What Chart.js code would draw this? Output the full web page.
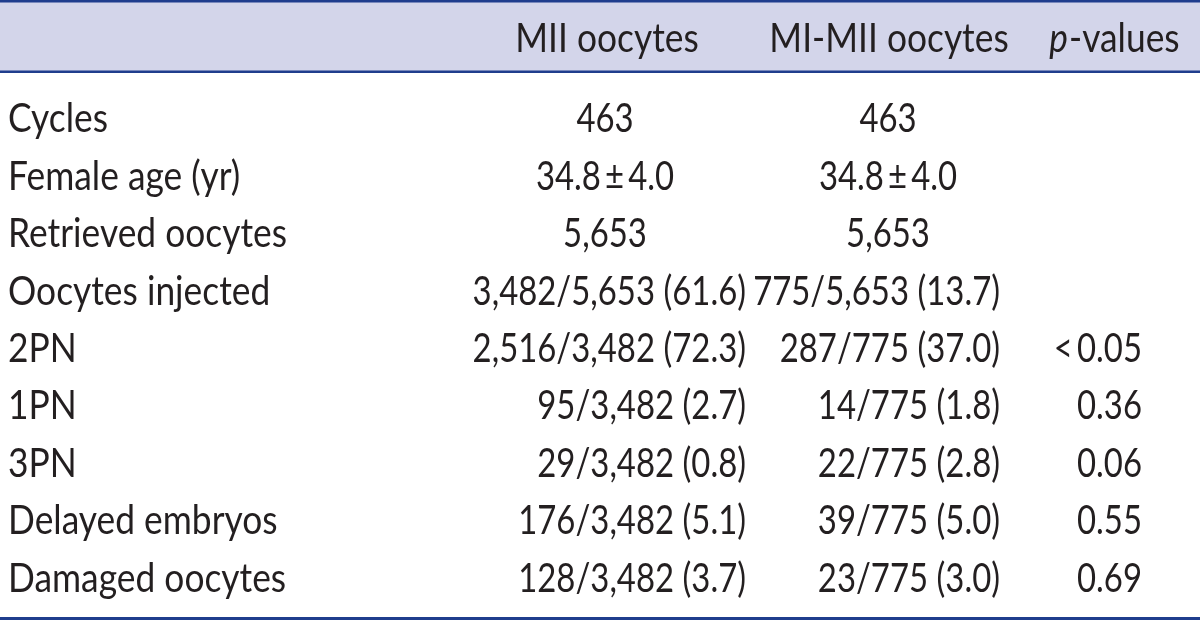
<!DOCTYPE html>
<html lang="en">
<head>
  <meta charset="UTF-8">
  <title>MII vs MI-MII oocytes</title>
  <script src="https://cdn.jsdelivr.net/npm/chart.js"></script>
  <style>
    html, body { margin: 0; padding: 0; background: #fff; }
    #wrap { width: 1200px; height: 620px; position: relative; }
  </style>
</head>
<body>
  <div id="wrap"><canvas id="tabla"></canvas></div>

  <script>
    // datos de la tabla
    const rowLabels = ['Cycles', 'Female age (yr)', 'Retrieved oocytes', 'Oocytes injected',
      '2PN', '1PN', '3PN', 'Delayed embryos', 'Damaged oocytes'];
    const miiValues = ['463', '34.8\u2009\u00b1\u20094.0', '5,653', '3,482/5,653 (61.6)', '2,516/3,482 (72.3)',
      '95/3,482 (2.7)', '29/3,482 (0.8)', '176/3,482 (5.1)', '128/3,482 (3.7)'];
    const mimiiValues = ['463', '34.8\u2009\u00b1\u20094.0', '5,653', '775/5,653 (13.7)', '287/775 (37.0)',
      '14/775 (1.8)', '22/775 (2.8)', '39/775 (5.0)', '23/775 (3.0)'];
    const pValues = ['', '', '', '', '<\u20090.05', '0.36', '0.06', '0.55', '0.69'];
    const columnHeaders = ['', 'MII oocytes', 'MI-MII oocytes', 'p-values'];

    // layout de columnas (posicion en el eje x, no son datos)
    const colLeft = 8;
    const colCenter = [0, 605, 888, 1113];
    const colRight = [0, 746, 1000, 1142];
    const headerCenter = [0, 607, 889, 1114];
    const centeredRows = 3; // primeras filas centradas, el resto alineado a la derecha

    const FONT = 'Lato, "Open Sans", sans-serif';
    const SIZE = 40;
    const TEXT = '#231f20';
    const LINE = '#1f3d8d';
    const BAND = '#d3d5ea';

    const columns = [rowLabels, miiValues, mimiiValues, pValues];

    function anchorX(c, r) {
      if (c === 0) return colLeft;
      return r < centeredRows ? colCenter[c] : colRight[c];
    }

    const datasets = columns.map((vals, c) => ({
      label: columnHeaders[c],
      data: vals.map((v, r) => ({ x: anchorX(c, r), y: rowLabels[r], text: v })),
      pointRadius: 0,
      pointHoverRadius: 0
    }));

    // fuente condensada: se estrecha el texto para parecerse al original
    let sx = 1;
    function calibrate(ctx) {
      ctx.font = SIZE + 'px ' + FONT;
      sx = 279 / ctx.measureText('Retrieved oocytes').width;
    }

    function texto(ctx, t, x, y, align, font, k) {
      ctx.save();
      ctx.font = font || (SIZE + 'px ' + FONT);
      ctx.textAlign = align;
      ctx.translate(x, y);
      ctx.scale(sx * (k || 1), 1);
      ctx.fillText(t, 0, 0);
      ctx.restore();
    }

    const tablaPlugin = {
      id: 'tabla',
      beforeDraw(chart) {
        const ctx = chart.ctx;
        const w = chart.width, h = chart.height;
        ctx.save();
        ctx.fillStyle = '#fff';
        ctx.fillRect(0, 0, w, h);
        ctx.fillStyle = BAND;
        ctx.fillRect(0, 2, w, 69);
        ctx.fillStyle = LINE;
        ctx.fillRect(0, 0, w, 2.5);
        ctx.fillRect(0, 70.5, w, 2.5);
        ctx.fillRect(0, 617, w, 3);
        ctx.restore();
      },
      afterDatasetsDraw(chart) {
        const ctx = chart.ctx;
        calibrate(ctx);
        ctx.save();
        ctx.fillStyle = TEXT;
        ctx.textBaseline = 'alphabetic';
        chart.data.datasets.forEach((ds, c) => {
          const meta = chart.getDatasetMeta(c);
          meta.data.forEach((pt, r) => {
            const txt = ds.data[r].text;
            if (!txt) return;
            let align = 'left';
            if (c > 0) align = r < centeredRows ? 'center' : 'right';
            texto(ctx, txt, pt.x, pt.y + 14.5, align, null, c > 0 ? 0.93 : 1);
          });
        });

        // encabezado
        const yHead = chart.chartArea.top - 37;
        const normal = SIZE + 'px ' + FONT;
        const italic = 'italic ' + SIZE + 'px ' + FONT;
        for (let c = 1; c < columnHeaders.length; c++) {
          const t = columnHeaders[c];
          if (t.startsWith('p-')) {
            ctx.font = italic;
            const w1 = ctx.measureText('p').width * sx;
            ctx.font = normal;
            const w2 = ctx.measureText(t.slice(1)).width * sx;
            const x0 = headerCenter[c] - (w1 + w2) / 2;
            texto(ctx, 'p', x0, yHead, 'left', italic);
            texto(ctx, t.slice(1), x0 + w1 + 1, yHead, 'left', normal);
          } else {
            texto(ctx, t, headerCenter[c], yHead, 'center', normal);
          }
        }
        ctx.restore();
      }
    };

    new Chart(document.getElementById('tabla'), {
      type: 'scatter',
      data: { datasets },
      options: {
        responsive: true,
        maintainAspectRatio: false,
        animation: false,
        layout: { padding: { top: 89, bottom: 14, left: 0, right: 0 } },
        plugins: { legend: { display: false }, tooltip: { enabled: false } },
        scales: {
          x: { type: 'linear', min: 0, max: 1200, display: false },
          y: { type: 'category', labels: rowLabels, offset: true, display: false }
        }
      },
      plugins: [tablaPlugin]
    });
  </script>
</body>
</html>
